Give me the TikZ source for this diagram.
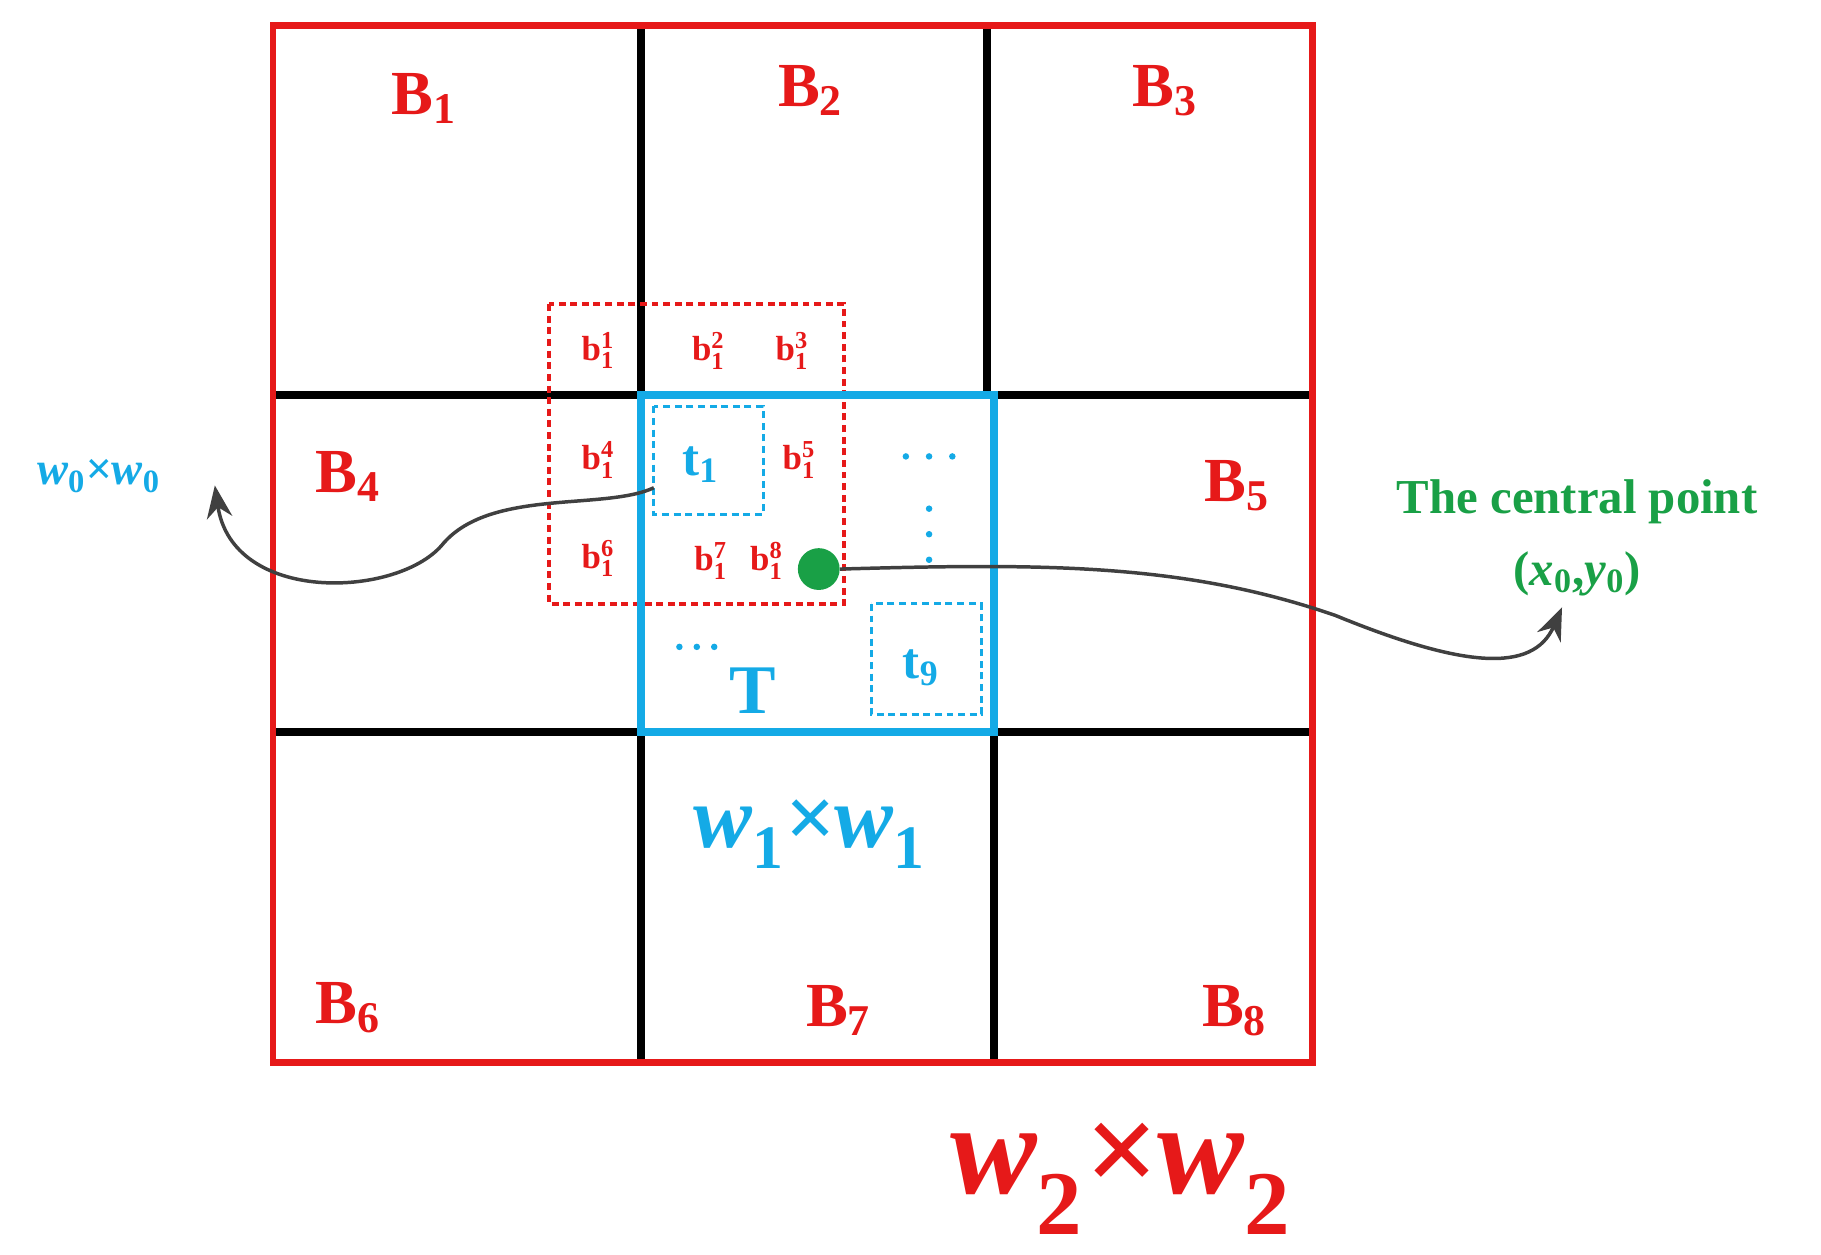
\documentclass[tikz,border=0pt]{standalone}
\usepackage{fontspec}
\setmainfont{Liberation Serif}
\usetikzlibrary{arrows.meta}
\definecolor{cy}{RGB}{20,170,230}
\definecolor{rd}{RGB}{230,25,25}
\definecolor{gr}{RGB}{25,160,70}
\newcommand{\sbu}[1]{\textsubscript{\upshape #1}}
\tikzset{blab/.style={text=rd,font=\fontsize{27}{30}\selectfont\bfseries},
 slab/.style={text=rd,font=\fontsize{15}{17}\selectfont\bfseries,inner sep=0pt},
 tlab/.style={text=cy,font=\fontsize{22}{24}\selectfont\bfseries},
 grid/.style={line width=3.4pt,black},
 conn/.style={line width=1.5pt,black!75,-{Stealth[length=14pt,width=11pt]}}}
\begin{document}
\begin{tikzpicture}[x=0.5pt,y=-0.5pt]
\useasboundingbox (0,0) rectangle (1568,1080);
% grid
\draw[grid] (552,22) -- (552,915);
\draw[grid] (850,22) -- (850,340);
\draw[grid] (856,630) -- (856,915);
\draw[grid] (235,340) -- (1130,340);
\draw[grid] (235,630) -- (1130,630);
\draw[rd,line width=2.8pt] (235,22) rectangle (1130,915);
% dashed red box
\draw[rd,line width=1.6pt,dash pattern=on 3pt off 2pt] (473,262) rectangle (727,520);
% T box
\draw[cy,line width=3.4pt] (552,340) rectangle (856,630);
\draw[cy,line width=1.3pt,dash pattern=on 3pt off 2pt] (563,350) rectangle (657,443);
\draw[cy,line width=1.3pt,dash pattern=on 3pt off 2pt] (750,520) rectangle (845,615);
\coordinate (t1w) at (563,420);
% labels
\node[blab] at (365,85) {B\textsubscript{1}};
\node[blab] at (698,78) {B\textsubscript{2}};
\node[blab] at (1003,78) {B\textsubscript{3}};
\node[blab] at (300,410) {B\textsubscript{4}};
\node[blab] at (1065,418) {B\textsubscript{5}};
\node[blab] at (300,868) {B\textsubscript{6}};
\node[blab] at (722,870) {B\textsubscript{7}};
\node[blab] at (1063,870) {B\textsubscript{8}};
\node[slab] at (515,302) {b$_{\mathbf 1}^{\mathbf 1}$};
\node[slab] at (610,302) {b$_{\mathbf 1}^{\mathbf 2}$};
\node[slab] at (682,302) {b$_{\mathbf 1}^{\mathbf 3}$};
\node[slab] at (515,396) {b$_{\mathbf 1}^{\mathbf 4}$};
\node[slab] at (688,396) {b$_{\mathbf 1}^{\mathbf 5}$};
\node[slab] at (515,481) {b$_{\mathbf 1}^{\mathbf 6}$};
\node[slab] at (612,483) {b$_{\mathbf 1}^{\mathbf 7}$};
\node[slab] at (660,483) {b$_{\mathbf 1}^{\mathbf 8}$};
\node[tlab] at (603,400) {t\textsubscript{1}};
\node[tlab] at (793,575) {t\textsubscript{9}};
\node[text=cy,font=\fontsize{30}{32}\selectfont\bfseries] at (648,595) {T};
\foreach \x in {585,600,615} \fill[cy] (\x,557) circle (2.8);
\foreach \x in {780,800,820} \fill[cy] (\x,393) circle (2.8);
\foreach \y in {438,460,482} \fill[cy] (800,\y) circle (2.8);
\node[circle,fill=gr,minimum size=18pt,inner sep=0pt] (c) at (705,490) {};
% labels outside
\node[text=cy,font=\fontsize{20}{22}\selectfont\bfseries\itshape] (w0) at (85,410) {w\sbu{0}×w\sbu{0}};
\node[text=cy,font=\fontsize{38}{40}\selectfont\bfseries\itshape] at (697,718) {w\sbu{1}×w\sbu{1}};
\node[text=rd,font=\fontsize{56}{60}\selectfont\bfseries\itshape] at (965,1015) {w\sbu{2}×w\sbu{2}};
\node[text=gr,font=\fontsize{21}{23}\selectfont\bfseries] at (1358,432) {The central point};
\node[text=gr,font=\fontsize{21}{23}\selectfont\bfseries] (cp) at (1358,494) {(\textit{x}\sbu{0},\textit{y}\sbu{0})};
\coordinate (a1) at (185,418);
\coordinate (a2) at (1345,523);
\draw[conn] (t1w) .. controls (520,440) and (420,420) .. (380,470) .. controls (340,515) and (200,520) .. (a1);
\draw[conn] (c.east) .. controls (900,485) and (1020,485) .. (1150,530) .. controls (1260,575) and (1320,580) .. (a2);
\end{tikzpicture}
\end{document}
